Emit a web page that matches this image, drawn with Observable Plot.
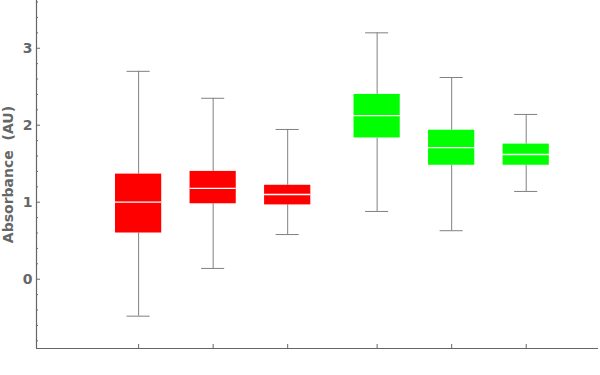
<!DOCTYPE html>
<html>
<head>
<meta charset="utf-8">
<script src="https://cdn.jsdelivr.net/npm/d3@7"></script>
<script src="https://cdn.jsdelivr.net/npm/@observablehq/plot@0.6"></script>
<style>
  html, body { margin: 0; padding: 0; background: #fff; }
  #chart { width: 600px; height: 375px; }
</style>
</head>
<body>
<div id="chart"></div>
<script>
// Data
const groups = ["A1", "A2", "A3", "B1", "B2", "B3"];
const positions = [1, 2, 3, 4.2, 5.2, 6.2];
const colors = ["#ff0000", "#ff0000", "#ff0000", "#00ff00", "#00ff00", "#00ff00"];
const whiskerLow = [-0.48, 0.14, 0.58, 0.88, 0.63, 1.14];
const q1 = [0.60, 0.98, 0.965, 1.835, 1.48, 1.48];
const median = [1.0, 1.18, 1.10, 2.125, 1.71, 1.62];
const q3 = [1.365, 1.40, 1.22, 2.40, 1.935, 1.755];
const whiskerHigh = [2.70, 2.35, 1.945, 3.20, 2.62, 2.14];
const yMajorTicks = [0, 1, 2, 3];
const yLabel = "Absorbance\u00a0 (AU)";

const data = groups.map((g, i) => ({
  g, x: positions[i], color: colors[i],
  lo: whiskerLow[i], q1: q1[i], med: median[i], q3: q3[i], hi: whiskerHigh[i]
}));

const boxHalf = 0.31, capHalf = 0.155;
const axisColor = "#666666";
const xDomain = [-0.37, 7.17];
const yDomain = [-0.9, 3.62];
const minorTicks = d3.range(-0.8, 3.61, 0.2).map(v => Math.round(v * 10) / 10).filter(v => !yMajorTicks.includes(v));
const blank = () => "";

const chart = Plot.plot({
  width: 600,
  height: 375,
  marginLeft: 36,
  marginRight: 2,
  marginTop: 0,
  marginBottom: 27,
  style: { fontFamily: "DejaVu Sans", fontSize: "14px", fontWeight: "bold", color: axisColor, background: "#fff" },
  x: { type: "linear", domain: xDomain },
  y: { domain: yDomain },
  marks: [
    // whiskers
    Plot.ruleX(data, { x: "x", y1: "lo", y2: "q1", stroke: "#808080", strokeWidth: 1 }),
    Plot.ruleX(data, { x: "x", y1: "q3", y2: "hi", stroke: "#808080", strokeWidth: 1 }),
    // caps
    Plot.ruleY(data, { y: "lo", x1: d => d.x - capHalf, x2: d => d.x + capHalf, stroke: "#808080", strokeWidth: 1 }),
    Plot.ruleY(data, { y: "hi", x1: d => d.x - capHalf, x2: d => d.x + capHalf, stroke: "#808080", strokeWidth: 1 }),
    // boxes
    Plot.rectY(data, { x1: d => d.x - boxHalf, x2: d => d.x + boxHalf, y1: "q1", y2: "q3", fill: "color" }),
    // medians
    Plot.ruleY(data, { y: "med", x1: d => d.x - boxHalf, x2: d => d.x + boxHalf, stroke: "#ffffff", strokeWidth: 1.3 }),
    // axes
    Plot.axisY({ ticks: yMajorTicks, tickSize: -4, tickPadding: 8, tickFormat: d3.format("d"), stroke: axisColor, fill: axisColor,
      fontSize: 14, label: yLabel, labelAnchor: "center", labelOffset: 33, labelArrow: "none" }),
    Plot.axisY({ ticks: minorTicks, tickSize: -2, tickFormat: blank, stroke: axisColor, label: null }),
    Plot.axisX({ ticks: positions, tickSize: -4, tickFormat: blank, stroke: axisColor, label: null }),
    Plot.ruleX([xDomain[0]], { stroke: axisColor, strokeWidth: 1.2 }),
    Plot.ruleY([yDomain[0]], { stroke: axisColor, strokeWidth: 1.2 })
  ]
});
document.getElementById("chart").appendChild(chart);
</script>
</body>
</html>
